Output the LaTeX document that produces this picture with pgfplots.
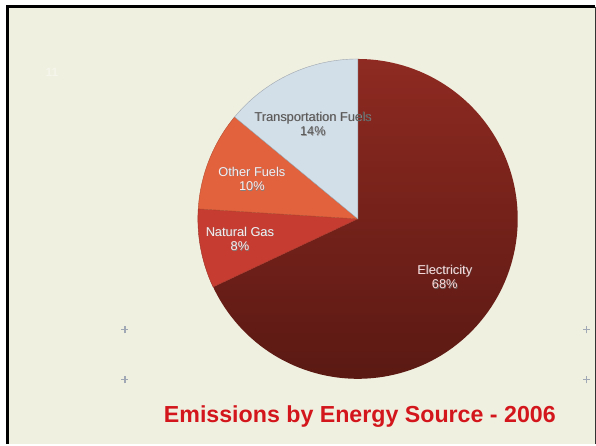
\documentclass[border=0pt]{standalone}
\usepackage{fontspec}
\setmainfont{Liberation Sans}
\usepackage{pgfplots}
\pgfplotsset{compat=1.18}

\definecolor{bg}{HTML}{F0F0E0}
\definecolor{elecTop}{HTML}{8E2A21}
\definecolor{elecBot}{HTML}{5A1913}
\definecolor{gasRed}{HTML}{C63C30}
\definecolor{otherOr}{HTML}{E2623D}
\definecolor{transBl}{HTML}{D2DEE8}
\definecolor{titleRed}{HTML}{D2161C}
\definecolor{crossGr}{HTML}{A0A8B6}

% shares in percent, counter-clockwise from 12 o'clock
\def\pTrans{14}
\def\pOther{10}
\def\pGas{8}
\def\pElec{68}

\pgfmathsetmacro{\aA}{90}
\pgfmathsetmacro{\aB}{\aA+3.6*\pTrans}
\pgfmathsetmacro{\aC}{\aB+3.6*\pOther}
\pgfmathsetmacro{\aD}{\aC+3.6*\pGas}
\pgfmathsetmacro{\aE}{\aD+3.6*\pElec}

\def\cx{358}
\def\cy{225}
\def\rr{160}

\newcommand\smallcross[2]{%
  \draw[crossGr, line width=1.2pt] (axis cs:#1-3.5,#2) -- (axis cs:#1+3.5,#2);
  \draw[crossGr, line width=1.2pt] (axis cs:#1,#2-3.5) -- (axis cs:#1,#2+3.5);}

\begin{document}
\begin{tikzpicture}
\begin{axis}[
    scale only axis,
    width=596pt, height=444pt,
    xmin=0, xmax=596, ymin=0, ymax=444,
    hide axis, clip=false,
    variable=\t, samples=120,
]
% page and frame
\fill[white] (axis cs:0,0) rectangle (axis cs:596,444);
\fill[bg] (axis cs:7.5,0) rectangle (axis cs:595,437);
\draw[black, line width=2.6pt] (axis cs:7.3,0) -- (axis cs:7.3,437.2) -- (axis cs:595,437.2);
\draw[black!80, line width=1.2pt] (axis cs:595.4,437.2) -- (axis cs:595.4,0);

% slide number, almost invisible
\node[text=white!35!bg, font=\bfseries\fontsize{12}{12}\selectfont] at (axis cs:52,372) {11};

% small crosses
\smallcross{125}{114}
\smallcross{125}{64}
\smallcross{587}{114}
\smallcross{587}{64}

% pie wedges
\addplot[draw=none, top color=elecTop, bottom color=elecBot, domain=\aD:\aE]
  ({\cx+\rr*cos(\t)}, {\cy+\rr*sin(\t)}) -- (axis cs:\cx,\cy) -- cycle;
\addplot[fill=gasRed, draw=gasRed!80!black, line width=0.4pt, domain=\aC:\aD]
  ({\cx+\rr*cos(\t)}, {\cy+\rr*sin(\t)}) -- (axis cs:\cx,\cy) -- cycle;
\addplot[fill=otherOr, draw=otherOr!80!black, line width=0.4pt, domain=\aB:\aC]
  ({\cx+\rr*cos(\t)}, {\cy+\rr*sin(\t)}) -- (axis cs:\cx,\cy) -- cycle;
\addplot[fill=transBl, draw=transBl!75!black, line width=0.4pt, domain=\aA:\aB]
  ({\cx+\rr*cos(\t)}, {\cy+\rr*sin(\t)}) -- (axis cs:\cx,\cy) -- cycle;

% slice labels
\tikzset{lbl/.style={align=center, font=\fontsize{12.8}{14.5}\selectfont}}
\node[lbl, text=black!40] at (axis cs:313.6,319.6) {Transportation Fuels\\\pTrans\%};
\node[lbl, text=black!65] at (axis cs:313,320) {Transportation Fuels\\\pTrans\%};
\node[lbl, text=black!50] at (axis cs:252.6,264.6) {Other Fuels\\\pOther\%};
\node[lbl, text=white!92!red] at (axis cs:252,265) {Other Fuels\\\pOther\%};
\node[lbl, text=black!50] at (axis cs:240.6,204.6) {Natural Gas\\\pGas\%};
\node[lbl, text=white!92!red] at (axis cs:240,205) {Natural Gas\\\pGas\%};
\node[lbl, text=black!60] at (axis cs:445.6,166.6) {Electricity\\\pElec\%};
\node[lbl, text=white!85!red] at (axis cs:445,167) {Electricity\\\pElec\%};

% title
\node[anchor=base, text=titleRed, font=\bfseries\fontsize{23.2}{23.2}\selectfont]
  at (axis cs:360,21) {Emissions by Energy Source - 2006};
\end{axis}
\end{tikzpicture}
\end{document}
